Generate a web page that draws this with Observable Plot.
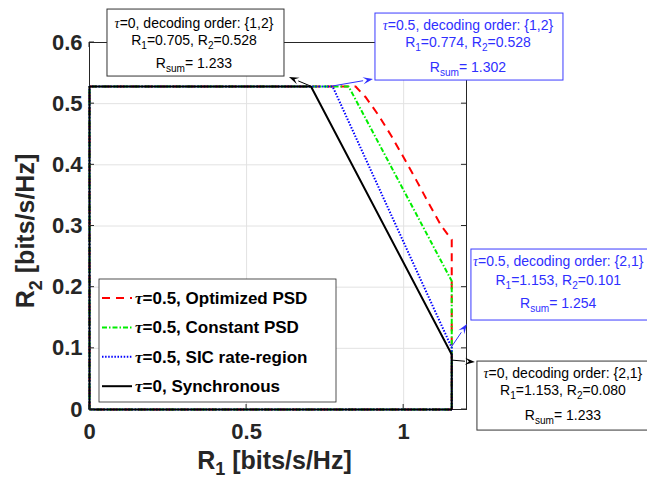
<!DOCTYPE html>
<html><head><meta charset="utf-8">
<script src="https://cdn.jsdelivr.net/npm/d3@7"></script>
<script src="https://cdn.jsdelivr.net/npm/@observablehq/plot@0.6"></script>
<style>html,body{margin:0;padding:0;background:#fff;}</style>
</head><body>
<div id="chart"></div>
<script>
// ---------- data ----------
const xTicks = [0, 0.5, 1];
const yTicks = [0, 0.1, 0.2, 0.3, 0.4, 0.5, 0.6];

const optR1 = [0, 0, 0.847, 0.88, 0.92, 0.96, 1.00, 1.04, 1.08, 1.12, 1.145, 1.153, 1.153, 0];
const optR2 = [0, 0.528, 0.528, 0.510, 0.481, 0.448, 0.412, 0.375, 0.337, 0.300, 0.283, 0.278, 0, 0];
const constR1 = [0, 0, 0.825, 1.153, 1.153, 0];
const constR2 = [0, 0.528, 0.528, 0.210, 0, 0];
const sicR1 = [0, 0, 0.774, 1.153, 1.153, 0];
const sicR2 = [0, 0.528, 0.528, 0.101, 0, 0];
const syncR1 = [0, 0, 0.705, 1.153, 1.153, 0];
const syncR2 = [0, 0.528, 0.528, 0.090, 0, 0];

const seriesTau = ["0.5", "0.5", "0.5", "0"];
const seriesNames = ["Optimized PSD", "Constant PSD", "SIC rate-region", "Synchronous"];

const annTau = ["0", "0.5", "0.5", "0"];
const annOrder = ["{1,2}", "{1,2}", "{2,1}", "{2,1}"];
const annR1 = [0.705, 0.774, 1.153, 1.153];
const annR2 = [0.528, 0.528, 0.101, 0.080];
const annSum = [1.233, 1.302, 1.254, 1.233];

// ---------- styles ----------
const FONT = "'Liberation Sans', Arial, Helvetica, sans-serif";
const TAUFONT = "'Liberation Serif', 'DejaVu Serif', serif";
const AX = "#262626";
const BLUE = "#2f2fff";
const seriesStyle = [
  {stroke: "#ff0000", dash: "8,6"},
  {stroke: "#00ee00", dash: "5,2,1.5,2"},
  {stroke: "#0000ff", dash: "1.5,1.6"},
  {stroke: "#000000", dash: null}
];
const annStyle = [
  {color: "#000", border: "#333", box: [-203.5, -77, 177, 67], cx: -116.5, base: [19, 36, 59], tip: [-21.5, -9]},
  {color: BLUE, border: "#3b3bff", box: [42.8, -73, 188, 67], cx: 135.8, base: [17, 34, 59], tip: [40.8, -7]},
  {color: BLUE, border: "#3b3bff", box: [19.7, -98.2, 185, 71], cx: 107, base: [17, 36, 59], tip: [15.7, -23.2]},
  {color: "#000", border: "#333", box: [25.7, 1, 173, 69], cx: 111.7, base: [17, 34, 59], tip: [23.7, 2]}
];

const pts = (a, b) => a.map((v, i) => ({r1: v, r2: b[i]}));
const seriesData = [pts(optR1, optR2), pts(constR1, constR2), pts(sicR1, sicR2), pts(syncR1, syncR2)];

const chart = Plot.plot({
  width: 647, height: 478,
  marginLeft: 89, marginRight: 181, marginTop: 42, marginBottom: 69,
  x: {domain: [0, 1.2]},
  y: {domain: [0, 0.6]},
  style: {fontFamily: FONT, background: "#fff", overflow: "visible"},
  marks: [
    Plot.gridX(xTicks, {stroke: "#e2e2e2", strokeOpacity: 1}),
    Plot.gridY(yTicks, {stroke: "#e2e2e2", strokeOpacity: 1}),
    Plot.axisX(xTicks, {tickSize: 0, tickPadding: 14, tickFormat: d => String(d), fontSize: 22, fontWeight: "bold", fill: AX, label: null}),
    Plot.axisY(yTicks, {tickSize: 0, tickPadding: 7, tickFormat: d => String(d), fontSize: 22, fontWeight: "bold", fill: AX, label: null}),
    Plot.frame({stroke: AX, strokeWidth: 1}),
    ...seriesData.map((d, i) => Plot.line(d, {
      x: "r1", y: "r2", stroke: seriesStyle[i].stroke, strokeWidth: 2,
      strokeDasharray: seriesStyle[i].dash, strokeLinecap: "butt", strokeLinejoin: "miter", curve: "linear"
    }))
  ]
});
document.getElementById("chart").append(chart);

const svg = d3.select(chart);
const sx = chart.scale("x"), sy = chart.scale("y");
const X = v => sx.apply(v), Y = v => sy.apply(v);

// inward ticks on all four sides
const tk = svg.append("g").attr("stroke", AX).attr("stroke-width", 1);
xTicks.forEach(v => {
  tk.append("line").attr("x1", X(v)).attr("x2", X(v)).attr("y1", Y(0)).attr("y2", Y(0) - 5);
  tk.append("line").attr("x1", X(v)).attr("x2", X(v)).attr("y1", Y(0.6)).attr("y2", Y(0.6) + 5);
});
yTicks.forEach(v => {
  tk.append("line").attr("y1", Y(v)).attr("y2", Y(v)).attr("x1", X(0)).attr("x2", X(0) + 5);
  tk.append("line").attr("y1", Y(v)).attr("y2", Y(v)).attr("x1", X(1.2)).attr("x2", X(1.2) - 5);
});

// rich text helper
function rich(parent, x, y, segs, size, color, weight, anchor = "middle", subShift = 0.3) {
  const t = parent.append("text").attr("x", x).attr("y", y)
    .attr("font-size", size).attr("fill", color).attr("font-family", FONT)
    .attr("font-weight", weight).attr("text-anchor", anchor);
  let shift = 0;
  segs.forEach(s => {
    const ts = t.append("tspan").text(s.t);
    const want = s.sub ? size * subShift : 0;
    if (want !== shift) { ts.attr("dy", want - shift); shift = want; }
    if (s.sub) ts.attr("font-size", size * 0.72);
    if (s.tau) ts.attr("font-family", TAUFONT).attr("font-style", "italic");
  });
  return t;
}

// axis labels
rich(svg, (X(0) + X(1.2)) / 2 - 3, 469, [{t: "R"}, {t: "1", sub: true}, {t: " [bits/s/Hz]"}], 25, AX, "bold", "middle", 0.24);
const yl = svg.append("g").attr("transform", "translate(34,231) rotate(-90)");
rich(yl, 0, 0, [{t: "R"}, {t: "2", sub: true}, {t: " [bits/s/Hz]"}], 25, AX, "bold");

// legend
const lg = svg.append("g");
lg.append("rect").attr("x", 99).attr("y", 279).attr("width", 237).attr("height", 123)
  .attr("fill", "#fff").attr("stroke", AX).attr("stroke-width", 0.8);
seriesNames.forEach((name, i) => {
  const yy = 298 + i * 29.4;
  lg.append("line").attr("x1", 102).attr("x2", 132).attr("y1", yy).attr("y2", yy)
    .attr("stroke", seriesStyle[i].stroke).attr("stroke-width", 2)
    .attr("stroke-dasharray", seriesStyle[i].dash);
  rich(lg, 135, yy + 6, [{t: "τ", tau: true}, {t: "=" + seriesTau[i] + ", " + name}], 17, "#000", "bold", "start");
});

// annotations
const an = svg.append("g");
annR1.forEach((r1, i) => {
  const st = annStyle[i];
  const ax = X(r1), ay = Y(annR2[i]);
  const [bx, by, bw, bh] = st.box;
  an.append("rect").attr("x", ax + bx).attr("y", ay + by).attr("width", bw).attr("height", bh)
    .attr("fill", "#fff").attr("stroke", st.border).attr("stroke-width", 1);
  const cx = ax + st.cx;
  rich(an, cx, ay + by + st.base[0], [{t: "τ", tau: true}, {t: "=" + annTau[i] + ", decoding order: " + annOrder[i]}], 14, st.color, "normal");
  rich(an, cx, ay + by + st.base[1], [{t: "R"}, {t: "1", sub: true}, {t: "=" + r1.toFixed(3) + ", R"}, {t: "2", sub: true}, {t: "=" + annR2[i].toFixed(3)}], 14, st.color, "normal");
  rich(an, cx, ay + by + st.base[2], [{t: "R"}, {t: "sum", sub: true}, {t: "= " + annSum[i].toFixed(3)}], 14, st.color, "normal");
  // arrow
  const tx = ax + st.tip[0], ty = ay + st.tip[1];
  const ang = Math.atan2(ty - ay, tx - ax);
  const L = 10, Wd = 3.5;
  const bxp = tx - L * Math.cos(ang), byp = ty - L * Math.sin(ang);
  an.append("line").attr("x1", ax).attr("y1", ay).attr("x2", bxp).attr("y2", byp)
    .attr("stroke", st.color).attr("stroke-width", 1);
  const nx = -Math.sin(ang), ny = Math.cos(ang);
  const nb = 0.6;
  an.append("path").attr("d",
    `M${tx},${ty} L${bxp + nx * Wd},${byp + ny * Wd} L${tx - L * nb * Math.cos(ang)},${ty - L * nb * Math.sin(ang)} L${bxp - nx * Wd},${byp - ny * Wd} Z`)
    .attr("fill", st.color);
});
</script>
</body></html>
